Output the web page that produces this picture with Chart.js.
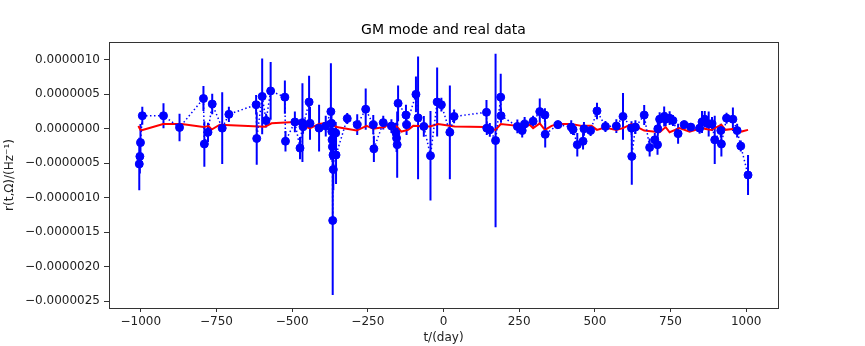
<!DOCTYPE html>
<html>
<head>
<meta charset="utf-8">
<script src="https://cdn.jsdelivr.net/npm/chart.js@4/dist/chart.umd.min.js"></script>
<style>
  html, body { margin: 0; padding: 0; background: #fff; }
</style>
</head>
<body>
<canvas id="gmChart" width="865" height="346"></canvas>
<script>
// observed points: day, value and 1-sigma error, values in units of 1e-7 Hz^-1
const obsDays = [
    -1005, -1003, -1001, -995, -925, -872, -793, -790, -778, -764,
    -731, -709, -619, -617, -599, -586, -571, -524, -522, -491,
    -474, -466, -464, -444, -441, -411, -389, -372, -370, -369,
    -368, -367, -366, -365, -364, -356, -355, -318, -285, -257,
    -232, -230, -199, -172, -157, -155, -153, -150, -124, -122,
    -91, -84, -65, -43, -21, -7, 21, 35, 142, 143,
    153, 172, 189, 190, 244, 260, 268, 296, 318, 335,
    336, 378, 422, 428, 442, 461, 464, 486, 507, 535,
    571, 593, 621, 622, 634, 663, 681, 698, 707, 708,
    714, 729, 734, 747, 758, 775, 795, 817, 846, 854,
    863, 876, 887, 896, 916, 918, 935, 956, 970, 982,
    1006
];
const obsValues = [
    -5.1, -4.0, -2.0, 1.9, 1.9, 0.2, 4.4, -2.2, -0.5, 3.6,
    0.1, 2.1, 3.5, -1.4, 4.7, 1.2, 5.5, 4.6, -1.8, 1.0,
    -2.8, 0.9, 0.3, 3.9, 0.8, 0.1, 0.4, 2.5, 0.8, -0.4,
    -1.6, -2.6, -13.3, -3.8, -5.9, -0.6, -3.8, 1.5, 0.6, 2.85,
    0.6, -2.9, 0.9, 0.4, -0.6, -1.35, -2.3, 3.7, 2.0, 0.6,
    5.0, 1.6, 0.35, -3.9, 3.9, 3.5, -0.5, 1.8, 2.4, 0.1,
    -0.15, -1.7, 4.6, 1.9, 0.35, -0.25, 0.7, 1.1, 2.5, 2.0,
    -0.8, 0.6, 0.25, -0.1, -2.3, -1.8, 0.0, -0.25, 2.6, 0.35,
    0.4, 1.8, 0.1, -4.0, 0.25, 2.0, -2.7, -1.6, -2.3, 0.0,
    1.4, 1.8, 1.4, 1.55, 1.2, -0.7, 0.6, 0.25, 0.1, 1.0,
    1.4, 0.7, 0.7, -1.6, -0.25, -2.2, 1.55, 1.4, -0.25, -2.5,
    -6.7
];
const obsErrors = [
    3.8, 2.5, 2.7, 1.3, 1.8, 2.0, 1.8, 3.3, 1.4, 1.5,
    5.2, 1.1, 1.4, 3.8, 5.5, 1.0, 4.2, 2.4, 1.5, 1.5,
    1.6, 5.7, 1.0, 3.8, 2.4, 3.4, 1.5, 7.0, 1.5, 1.8,
    2.0, 2.2, 10.8, 2.5, 3.0, 1.6, 4.2, 0.8, 1.5, 3.0,
    1.4, 1.9, 1.0, 1.0, 1.5, 2.0, 4.8, 2.6, 1.5, 1.5,
    2.6, 8.9, 1.5, 6.5, 5.0, 1.0, 6.8, 1.0, 1.8, 1.0,
    1.0, 12.6, 3.4, 1.0, 1.0, 1.0, 1.0, 0.8, 1.9, 1.0,
    1.9, 0.6, 1.0, 0.8, 1.7, 1.2, 1.0, 0.8, 1.2, 0.8,
    1.0, 3.4, 1.0, 4.1, 1.0, 1.45, 1.3, 1.0, 1.45, 1.0,
    1.0, 1.45, 1.0, 1.0, 0.8, 1.45, 0.6, 0.6, 0.8, 1.6,
    1.2, 1.8, 1.0, 3.5, 1.0, 1.8, 0.8, 1.7, 1.0, 0.8,
    2.9
];

// GM model curve
const modelDays = [
    -1008, -1000, -926, -865, -793, -776, -766, -739, -590, -568,
    -491, -464, -441, -411, -378, -353, -287, -254, -232, -194,
    -183, -155, -139, -117, -100, -45, -18, 37, 136, 172,
    189, 246, 268, 285, 296, 318, 335, 357, 378, 422,
    456, 489, 507, 533, 571, 593, 621, 663, 714, 734,
    747, 780, 813, 852, 885, 918, 931, 962, 984, 1006
];
const modelValues = [
    0.4, -0.25, 0.7, 0.7, 0.25, 0.4, -0.1, 0.6, 0.3, 0.8,
    1.0, 0.35, 0.1, 0.7, 0.9, 0.25, -0.25, 0.43, 0.0, 0.25,
    0.7, 0.35, -0.4, -0.15, 0.43, 0.35, 0.7, 0.35, 0.25, -0.15,
    0.7, 0.43, 0.25, 0.6, 0.1, 0.8, -0.15, 0.43, 0.7, 0.7,
    0.43, 0.43, -0.15, 0.2, -0.15, 0.1, 0.7, -0.25, -0.5, 0.25,
    -0.5, 0.1, -0.4, 0.1, -0.15, 0.6, -0.15, 0.0, -0.4, -0.15
];

const xTicks = [-1000, -750, -500, -250, 0, 250, 500, 750, 1000];
const yTicks = [-25, -20, -15, -10, -5, 0, 5, 10];

const obsPoints = obsDays.map((d, i) => ({ x: d, y: obsValues[i] }));
const modelPoints = modelDays.map((d, i) => ({ x: d, y: modelValues[i] }));

// error bars as one line dataset broken by gaps
const errPoints = [];
obsDays.forEach((d, i) => {
    errPoints.push({ x: d, y: obsValues[i] - obsErrors[i] });
    errPoints.push({ x: d, y: obsValues[i] + obsErrors[i] });
    errPoints.push({ x: d, y: null });
});

const textColor = '#222';
const lineColor = '#333';
const baseFont = { family: 'DejaVu Sans', size: 12 };

const minus = (s) => s.replace('-', '\u2212');

// top and right sides of the axes box
const framePlugin = {
    id: 'frame',
    afterDraw(chart) {
        const { ctx, chartArea: a } = chart;
        ctx.save();
        ctx.strokeStyle = lineColor;
        ctx.lineWidth = 1;
        ctx.strokeRect(Math.round(a.left) + 0.5, Math.round(a.top) + 0.5,
            Math.round(a.right - a.left), Math.round(a.bottom - a.top));
        ctx.restore();
    }
};

new Chart(document.getElementById('gmChart'), {
    type: 'scatter',
    data: {
        datasets: [{
            label: 'data',
            data: obsPoints,
            showLine: true,
            borderColor: '#0000ff',
            borderWidth: 1.5,
            borderDash: [1.5, 2.5],
            pointRadius: 4,
            pointBorderWidth: 1,
            pointBorderColor: '#0000ff',
            pointBackgroundColor: '#0000ff',
            order: 0
        }, {
            label: 'model',
            data: modelPoints,
            showLine: true,
            borderColor: '#ff0000',
            borderWidth: 2,
            pointRadius: 0,
            order: 1
        }, {
            label: 'errors',
            data: errPoints,
            showLine: true,
            spanGaps: false,
            borderColor: '#0000ff',
            borderWidth: 2,
            pointRadius: 0,
            order: 2
        }]
    },
    options: {
        responsive: false,
        animation: false,
        devicePixelRatio: 1,
        layout: { padding: { left: 0, right: 87, top: 0, bottom: 0 } },
        plugins: {
            legend: { display: false },
            tooltip: { enabled: false },
            title: {
                display: true,
                text: 'GM mode and real data',
                fullSize: false,
                color: '#000',
                font: { family: 'DejaVu Sans', size: 14, weight: 'normal' },
                padding: { top: 21.6, bottom: 3.6 }
            }
        },
        scales: {
            x: {
                type: 'linear',
                min: -1105,
                max: 1105,
                afterBuildTicks: (s) => { s.ticks = xTicks.map((v) => ({ value: v })); },
                afterFit: (s) => { s.height = 38; },
                ticks: {
                    color: textColor,
                    font: baseFont,
                    padding: 3,
                    maxRotation: 0,
                    autoSkip: false,
                    callback: (v) => minus(String(v))
                },
                grid: { drawOnChartArea: false, tickLength: 4, color: lineColor },
                border: { color: lineColor, width: 1 },
                title: {
                    display: true,
                    text: 't/(day)',
                    color: textColor,
                    font: baseFont,
                    padding: { top: 0, bottom: 1 }
                }
            },
            y: {
                type: 'linear',
                min: -26,
                max: 12.6,
                afterBuildTicks: (s) => { s.ticks = yTicks.map((v) => ({ value: v })); },
                afterFit: (s) => { s.width = 109; },
                ticks: {
                    color: textColor,
                    font: baseFont,
                    padding: 4,
                    autoSkip: false,
                    callback: (v) => minus((v * 1e-7).toFixed(7))
                },
                grid: { drawOnChartArea: false, tickLength: 5, color: lineColor },
                border: { color: lineColor, width: 1 },
                title: {
                    display: true,
                    text: 'r(t,\u03A9)/(Hz\u207B\u00B9)',
                    color: textColor,
                    font: baseFont,
                    padding: { top: 3, bottom: 0 }
                }
            }
        }
    },
    plugins: [framePlugin]
});
</script>
</body>
</html>
